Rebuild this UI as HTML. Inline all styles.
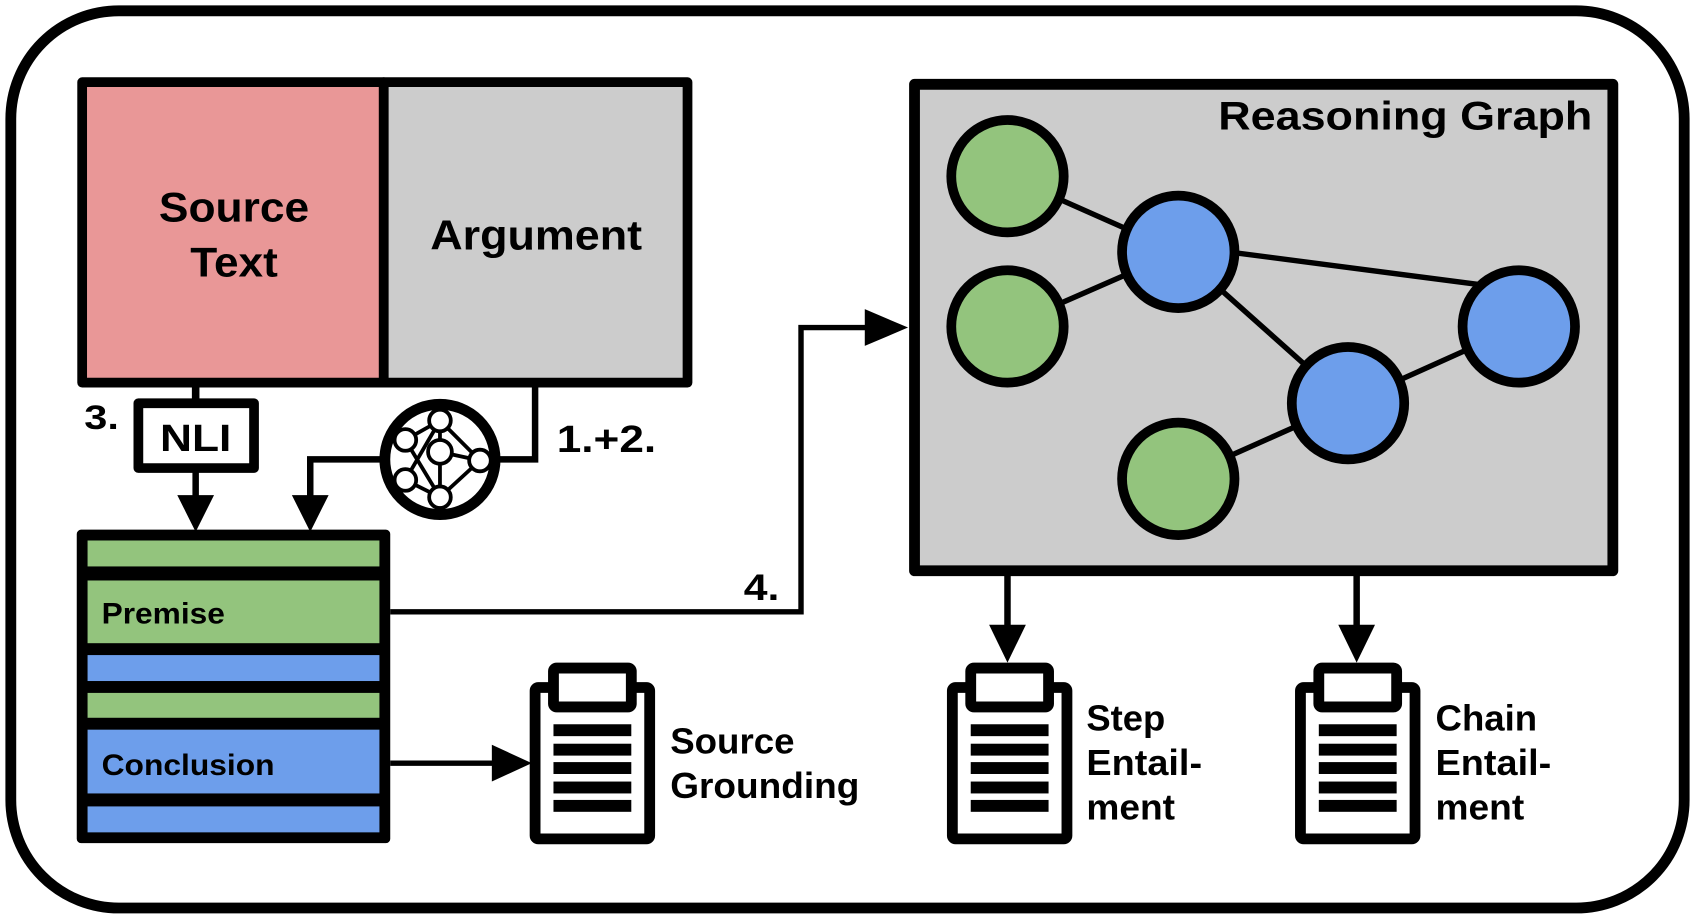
<!DOCTYPE html>
<html><head><meta charset="utf-8"><style>
html,body{margin:0;padding:0;background:#fff;}
svg{display:block;}
text{font-family:"Liberation Sans",sans-serif;font-weight:bold;fill:#000;}
</style></head><body>
<svg width="1695" height="921" viewBox="0 0 1568 852" preserveAspectRatio="none" xmlns="http://www.w3.org/2000/svg">
<!-- outer -->
<rect x="10" y="10" width="1548" height="830" rx="100" fill="#fff" stroke="#000" stroke-width="10"/>
<!-- source/argument -->
<rect x="76" y="76" width="279" height="278" fill="#e99797" stroke="#000" stroke-width="9" stroke-linejoin="round"/>
<rect x="355" y="76" width="281" height="278" fill="#cccccc" stroke="#000" stroke-width="9" stroke-linejoin="round"/>
<text x="147" y="205" font-size="39" textLength="139" lengthAdjust="spacingAndGlyphs">Source</text>
<text x="176" y="256" font-size="39" textLength="81" lengthAdjust="spacingAndGlyphs">Text</text>
<text x="398" y="231" font-size="39" textLength="196" lengthAdjust="spacingAndGlyphs">Argument</text>
<!-- NLI -->
<line x1="181" y1="354" x2="181" y2="372" stroke="#000" stroke-width="7"/>
<rect x="128" y="373" width="107" height="60" fill="#fff" stroke="#000" stroke-width="9" stroke-linejoin="round"/>
<text x="148" y="417" font-size="35" textLength="66" lengthAdjust="spacingAndGlyphs">NLI</text>
<line x1="181" y1="433" x2="181" y2="460" stroke="#000" stroke-width="6"/>
<polygon points="164,458 198,458 181,492" fill="#000"/>
<text x="78" y="397" font-size="32" textLength="32" lengthAdjust="spacingAndGlyphs">3.</text>
<!-- neural icon path -->
<polyline points="495,354 495,425 455,425" fill="none" stroke="#000" stroke-width="6"/>
<polyline points="360,425 287,425 287,460" fill="none" stroke="#000" stroke-width="6"/>
<polygon points="270,458 304,458 287,492" fill="#000"/>
<text x="515" y="418" font-size="35" textLength="92" lengthAdjust="spacingAndGlyphs">1.+2.</text>
<circle cx="407" cy="425" r="51" fill="#fff" stroke="#000" stroke-width="10"/>
<g stroke="#000" stroke-width="3.5" fill="none">
<line x1="407" y1="389" x2="407" y2="460"/>
<line x1="407" y1="389" x2="444" y2="426"/>
<line x1="407" y1="418" x2="444" y2="426"/>
<line x1="375" y1="407" x2="407" y2="389"/>
<line x1="375" y1="407" x2="407" y2="460"/>
<line x1="375" y1="444" x2="407" y2="389"/>
<line x1="375" y1="444" x2="407" y2="460"/>
<line x1="444" y1="426" x2="407" y2="460"/>
</g>
<g fill="#fff" stroke="#000" stroke-width="3.5">
<circle cx="407" cy="389" r="10"/><circle cx="407" cy="418" r="11"/><circle cx="444" cy="426" r="10"/>
<circle cx="407" cy="460" r="10"/><circle cx="375" cy="407" r="10"/><circle cx="375" cy="444" r="10"/>
</g>
<!-- stack -->
<rect x="71" y="490" width="290" height="290" rx="4" fill="#000"/>
<rect x="81" y="500" width="270" height="24" fill="#93c47d"/>
<rect x="81" y="537" width="270" height="58" fill="#93c47d"/>
<rect x="81" y="606" width="270" height="24" fill="#6d9eeb"/>
<rect x="81" y="641" width="270" height="23" fill="#93c47d"/>
<rect x="81" y="675" width="270" height="59" fill="#6d9eeb"/>
<rect x="81" y="746" width="270" height="24" fill="#6d9eeb"/>
<text x="94" y="577" font-size="27" textLength="114" lengthAdjust="spacingAndGlyphs">Premise</text>
<text x="94" y="717" font-size="27" textLength="160" lengthAdjust="spacingAndGlyphs">Conclusion</text>
<!-- arrow 4 -->
<polyline points="361,566 741,566 741,303 805,303" fill="none" stroke="#000" stroke-width="5"/>
<polygon points="800,286 840,303 800,320" fill="#000"/>
<text x="688" y="555" font-size="34" textLength="33" lengthAdjust="spacingAndGlyphs">4.</text>
<!-- conclusion arrow -->
<line x1="361" y1="706" x2="460" y2="706" stroke="#000" stroke-width="5"/>
<polygon points="455,689 492,706 455,723" fill="#000"/>
<!-- reasoning graph -->
<rect x="846" y="78" width="646" height="450" fill="#cccccc" stroke="#000" stroke-width="10" stroke-linejoin="round"/>
<text x="1127" y="120" font-size="37" textLength="346" lengthAdjust="spacingAndGlyphs">Reasoning Graph</text>
<g stroke="#000" stroke-width="5">
<line x1="932" y1="163" x2="1090" y2="233"/>
<line x1="932" y1="302" x2="1090" y2="233"/>
<line x1="1090" y1="227" x2="1405" y2="268"/>
<line x1="1090" y1="233" x2="1247" y2="373"/>
<line x1="1247" y1="373" x2="1405" y2="302"/>
<line x1="1090" y1="443" x2="1247" y2="373"/>
</g>
<g stroke="#000" stroke-width="9">
<circle cx="932" cy="163" r="52" fill="#93c47d"/>
<circle cx="932" cy="302" r="52" fill="#93c47d"/>
<circle cx="1090" cy="443" r="52" fill="#93c47d"/>
<circle cx="1090" cy="233" r="52" fill="#6d9eeb"/>
<circle cx="1247" cy="373" r="52" fill="#6d9eeb"/>
<circle cx="1405" cy="302" r="52" fill="#6d9eeb"/>
</g>
<!-- graph arrows -->
<line x1="932" y1="528" x2="932" y2="580" stroke="#000" stroke-width="6"/>
<polygon points="915,578 949,578 932,613" fill="#000"/>
<line x1="1255" y1="528" x2="1255" y2="580" stroke="#000" stroke-width="6"/>
<polygon points="1238,578 1272,578 1255,613" fill="#000"/>
<!-- clipboards -->
<g id="cb1">
<rect x="495" y="636" width="106" height="140" rx="3" fill="#fff" stroke="#000" stroke-width="10"/>
<rect x="512" y="618" width="72" height="36" rx="3" fill="#fff" stroke="#000" stroke-width="10"/>
<g fill="#000"><rect x="512" y="670" width="72" height="11"/><rect x="512" y="688" width="72" height="11"/><rect x="512" y="705" width="72" height="11"/><rect x="512" y="723" width="72" height="11"/><rect x="512" y="740" width="72" height="11"/></g>
</g>
<use href="#cb1" transform="translate(386,0)"/>
<use href="#cb1" transform="translate(708,0)"/>
<text x="620" y="697" font-size="33" textLength="115" lengthAdjust="spacingAndGlyphs">Source</text>
<text x="620" y="738" font-size="33" textLength="175" lengthAdjust="spacingAndGlyphs">Grounding</text>
<text x="1005" y="676" font-size="33" textLength="73" lengthAdjust="spacingAndGlyphs">Step</text>
<text x="1005" y="717" font-size="33" textLength="107" lengthAdjust="spacingAndGlyphs">Entail-</text>
<text x="1005" y="758" font-size="33" textLength="82" lengthAdjust="spacingAndGlyphs">ment</text>
<text x="1328" y="676" font-size="33" textLength="94" lengthAdjust="spacingAndGlyphs">Chain</text>
<text x="1328" y="717" font-size="33" textLength="107" lengthAdjust="spacingAndGlyphs">Entail-</text>
<text x="1328" y="758" font-size="33" textLength="82" lengthAdjust="spacingAndGlyphs">ment</text>
</svg>
</body></html>
